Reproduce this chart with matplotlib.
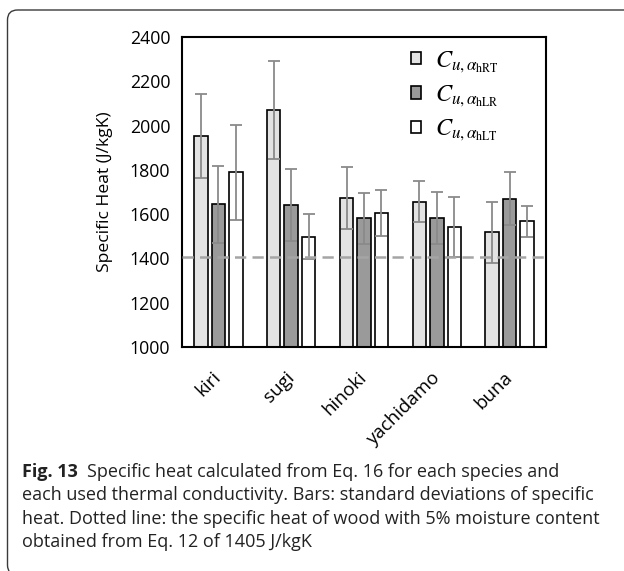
import matplotlib
matplotlib.use("Agg")
import matplotlib.pyplot as plt
import numpy as np
from matplotlib.patches import FancyBboxPatch
from matplotlib.transforms import IdentityTransform

species = ["kiri", "sugi", "hinoki", "yachidamo", "buna"]
heat_rt = [1951, 2071, 1674, 1656, 1518]
heat_lr = [1645, 1641, 1581, 1584, 1669]
heat_lt = [1789, 1499, 1606, 1543, 1569]
sd_rt = [190, 221, 139, 93, 139]
sd_lr = [174, 163, 114, 118, 120]
sd_lt = [214, 103, 105, 135, 70]
labels = [r"$C_{u,\alpha_{\mathrm{hRT}}}$",
          r"$C_{u,\alpha_{\mathrm{hLR}}}$",
          r"$C_{u,\alpha_{\mathrm{hLT}}}$"]
ref_heat = 1405  # 5% moisture content, Eq. 12

plt.rcParams["font.family"] = ["Open Sans", "DejaVu Sans"]
plt.rcParams["mathtext.fontset"] = "stix"

W, H = 624, 571
fig = plt.figure(figsize=(W / 100, H / 100), dpi=100)

# rounded frame (pixel coordinates, right and bottom run off the page)
frame = FancyBboxPatch((7.5, -4), 700, H - 10 + 4,
                       boxstyle="round,pad=0,rounding_size=10",
                       transform=IdentityTransform(), fill=False,
                       edgecolor="#3a3a3a", linewidth=1.0)
fig.patches.append(frame)

ax = fig.add_axes([182 / W, 1 - 347 / H, (546 - 182) / W, (347 - 37) / H])

x = np.arange(len(species))
w = 0.185
step = 0.24
colors = ["#e3e3e3", "#9a9a9a", "#ffffff"]
err_kw = dict(ecolor="#8a8a8a", elinewidth=1.3, capsize=4, capthick=1.3)
for i, (vals, sd) in enumerate([(heat_rt, sd_rt), (heat_lr, sd_lr), (heat_lt, sd_lt)]):
    ax.bar(x + (i - 1) * step, vals, width=w, color=colors[i],
           edgecolor="black", linewidth=1.2, yerr=sd, error_kw=err_kw,
           label=labels[i], zorder=2)

ax.axhline(ref_heat, color="#a5a5a5", linewidth=1.8, dashes=(4.5, 2.5), zorder=4)

ax.set_xlim(-0.5, len(species) - 0.5)
ax.set_ylim(1000, 2400)
ax.set_yticks(np.arange(1000, 2401, 200))
ax.set_xticks(x)
ax.set_xticklabels(species, rotation=45, ha="right", va="center",
                   rotation_mode="anchor", fontsize=13.5)
ax.tick_params(axis="both", length=0)
ax.tick_params(axis="y", pad=8.5, labelsize=12.8)
ax.tick_params(axis="x", pad=20)
ax.set_ylabel("Specific Heat (J/kgK)", fontsize=12.6, labelpad=12)
for s in ax.spines.values():
    s.set_linewidth(1.5)

leg = ax.legend(loc="upper left", bbox_to_anchor=(0.629, 0.962), frameon=False,
                fontsize=17.5, handlelength=0.41, handleheight=0.41,
                handletextpad=0.58, labelspacing=0.36, borderpad=0,
                borderaxespad=0)
for p in leg.get_patches():
    p.set_linewidth(1.2)

# caption, one text per line (baselines in pixels from the top)
cap_size = 13.0
cap_x = 22 / W
baselines = [477, 500.5, 524, 547]
t = fig.text(cap_x, 1 - baselines[0] / H, "Fig. 13", fontsize=cap_size,
             weight="bold", va="baseline", color="#222222")
fig.canvas.draw()
bb = t.get_window_extent()
fig.text((bb.x1 + 9) / W, 1 - baselines[0] / H,
         "Specific heat calculated from Eq. 16 for each species and",
         fontsize=cap_size, va="baseline", color="#222222")
rest = ["each used thermal conductivity. Bars: standard deviations of specific",
        "heat. Dotted line: the specific heat of wood with 5% moisture content",
        "obtained from Eq. 12 of 1405 J/kgK"]
for yb, line in zip(baselines[1:], rest):
    fig.text(cap_x, 1 - yb / H, line, fontsize=cap_size,
             va="baseline", color="#222222")

fig.savefig("out.png", dpi=100)
